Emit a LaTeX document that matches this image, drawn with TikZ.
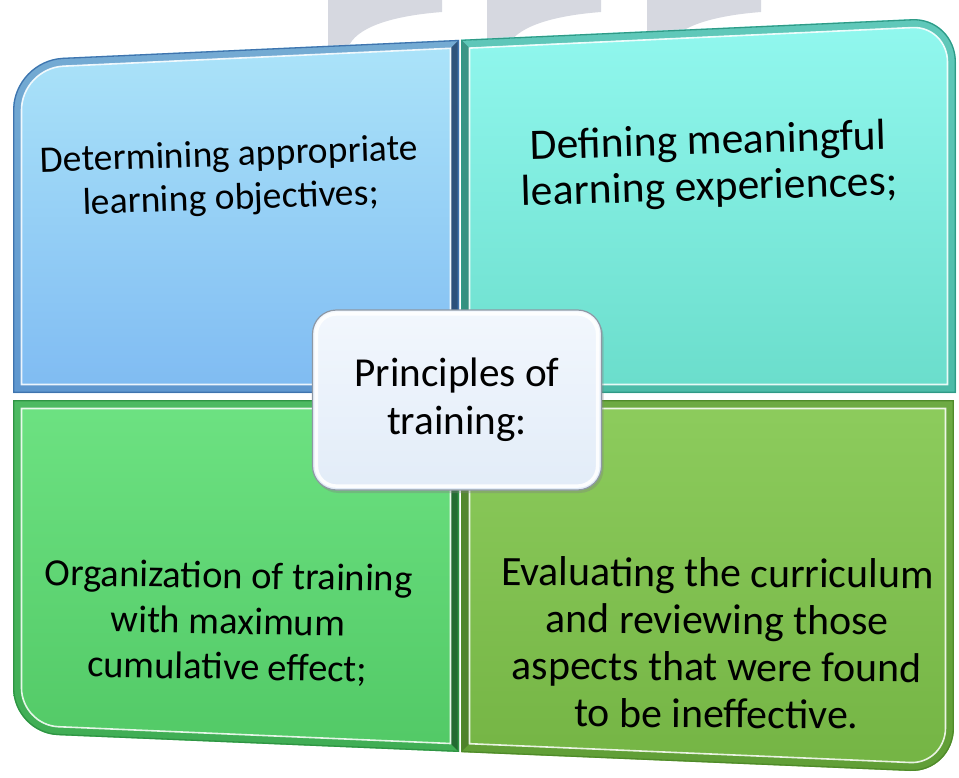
\documentclass[tikz,border=0pt]{standalone}
\usepackage{fontspec}
\setmainfont{Carlito}
\usetikzlibrary{shadows}
\definecolor{tlTop}{HTML}{ACE4F9}
\definecolor{tlBot}{HTML}{7FBBF2}
\definecolor{tlEdge}{HTML}{3F74AE}
\definecolor{tlDark}{HTML}{1F3F66}
\definecolor{trTop}{HTML}{92F8EF}
\definecolor{trBot}{HTML}{6ADDCB}
\definecolor{trEdge}{HTML}{2F9A86}
\definecolor{trDark}{HTML}{1B6456}
\definecolor{blTop}{HTML}{6DE282}
\definecolor{blBot}{HTML}{52C966}
\definecolor{blEdge}{HTML}{2F9444}
\definecolor{blDark}{HTML}{1C5A28}
\definecolor{brTop}{HTML}{8DCC5D}
\definecolor{brBot}{HTML}{74B444}
\definecolor{brEdge}{HTML}{4F8A2A}
\definecolor{brDark}{HTML}{33581B}
\definecolor{wm}{HTML}{D6D8E0}
\definecolor{ctrTop}{HTML}{F2F7FD}
\definecolor{ctrBot}{HTML}{E2ECF8}
\definecolor{ctrEdge}{HTML}{8E98A4}
% quadrant outlines, #1 = inset
\newcommand\pathTL[1]{(13+#1,393-#1) -- (13+#1,110) .. controls (13+#1,82.4+0.552*#1) and (35.4+0.552*#1,59+#1) .. (63,57.7+#1) -- (459-#1,39.8+#1) -- (459-#1,393-#1) -- cycle}
\newcommand\pathTR[1]{(461+#1,393-#1) -- (461+#1,39.6+#1) -- (912,19.1+#1) .. controls (936.3-0.552*#1,17.9+#1) and (956-#1,37.2+0.552*#1) .. (956-#1,62) -- (956-#1,393-#1) -- cycle}
\newcommand\pathBL[1]{(13+#1,400+#1) -- (13+#1,688) .. controls (13+#1,713-0.552*#1) and (33.2+0.552*#1,734.2-#1) .. (58,735.2-#1) -- (459-#1,752-#1) -- (459-#1,400+#1) -- cycle}
\newcommand\pathBR[1]{(461+#1,400+#1) -- (461+#1,752.2-#1) -- (910,771-#1) .. controls (934.3-0.552*#1,772-#1) and (954-#1,752.7-0.552*#1) .. (954-#1,728) -- (954-#1,400+#1) -- cycle}
\newcommand\wmshape[1]{(#1,0) -- (#1+114,0) -- (#1+114,12) .. controls (#1+62,16) and (#1+27,28) .. (#1+20,48) -- (#1,48) -- cycle}
\tikzset{
  txt/.style={align=center, text=black, inner sep=0pt},
  ctrbox/.style={rounded corners=24pt, minimum width=289pt, minimum height=180pt,
    top color=ctrTop, bottom color=ctrBot, draw=ctrEdge, line width=1.2pt,
    drop shadow={opacity=0.35, shadow xshift=2pt, shadow yshift=-3pt}, align=center,
    inner sep=0pt},
  band/.style={opacity=.5, line width=7pt},
  hilite/.style={white, opacity=.85, line width=1.6pt},
  rim/.style={line width=1.3pt}
}
\begin{document}
\begin{tikzpicture}[x=1pt,y=-1pt]
\useasboundingbox (0,0) rectangle (959,778);
\fill[white] (0,0) rectangle (959,778);
% faint background shapes
\fill[wm] \wmshape{328};
\fill[wm] \wmshape{487};
\fill[wm] \wmshape{647};
% top-left
\shade[top color=tlTop, bottom color=tlBot] \pathTL{0};
\draw[tlEdge, band] \pathTL{4.5};
\fill[tlDark, opacity=.8] (459,39.8) -- (459,393) -- (451,385) -- (451,47.8) -- cycle;
\draw[hilite] \pathTL{8.5};
\draw[tlEdge, rim] \pathTL{0.7};
% top-right
\shade[top color=trTop, bottom color=trBot] \pathTR{0};
\draw[trEdge, band] \pathTR{4.5};
\fill[trDark, opacity=.5] (461,39.6) -- (469,47.6) -- (469,385) -- (461,393) -- cycle;
\draw[hilite] \pathTR{8.5};
\draw[trEdge, rim] \pathTR{0.7};
% bottom-left
\shade[top color=blTop, bottom color=blBot] \pathBL{0};
\draw[blEdge, band] \pathBL{4.5};
\fill[blDark, opacity=.8] (459,400) -- (459,752) -- (451,744) -- (451,408) -- cycle;
\draw[hilite] \pathBL{8.5};
\draw[blEdge, rim] \pathBL{0.7};
% bottom-right
\shade[top color=brTop, bottom color=brBot] \pathBR{0};
\draw[brEdge, band] \pathBR{4.5};
\fill[brDark, opacity=.4] (461,400) -- (469,408) -- (469,744.2) -- (461,752.2) -- cycle;
\draw[hilite] \pathBR{8.5};
\draw[brEdge, rim] \pathBR{0.7};
% texts
\node[txt, font=\fontsize{37.5pt}{43.5pt}\selectfont, rotate=1.9] (tl) at (230,178) {Determining appropriate\\learning objectives;};
\node[txt, font=\fontsize{43.5pt}{46pt}\selectfont, rotate=1.6] (tr) at (709,166) {Defining meaningful\\learning experiences;};
\node[txt, font=\fontsize{38.5pt}{45.5pt}\selectfont, rotate=-1] (bl) at (228,623) {Organization of training\\with maximum\\cumulative effect;};
\node[txt, font=\fontsize{41.8pt}{47pt}\selectfont, rotate=-0.4] (br) at (717,643) {Evaluating the curriculum\\and reviewing those\\aspects that were found\\to be ineffective.};
% centre box
\node[ctrbox, font=\fontsize{41.2pt}{48pt}\selectfont] (ctr) at (457,400) {Principles of\\training:};
\draw[white, line width=3.5pt, rounded corners=20pt, opacity=.9] ([shift={(4.5,4.5)}]ctr.north west) rectangle ([shift={(-4.5,-4.5)}]ctr.south east);
\end{tikzpicture}
\end{document}
